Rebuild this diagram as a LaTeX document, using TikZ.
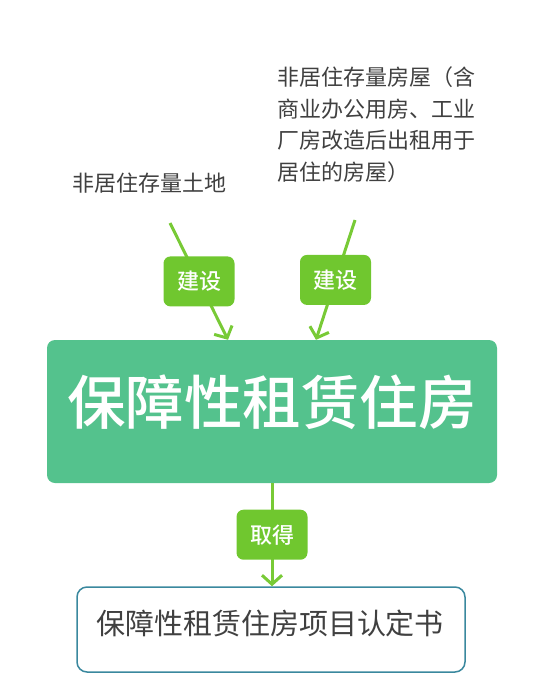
\documentclass[tikz,border=0pt]{standalone}
\usepackage{fontspec}
\setmainfont{Noto Sans CJK SC}
\newfontfamily\medfont{Noto Sans CJK SC Medium}
\usetikzlibrary{arrows.meta}
\definecolor{housefill}{HTML}{54C28D}
\definecolor{tagfill}{HTML}{70C72F}
\definecolor{linegreen}{HTML}{78CA36}
\definecolor{certline}{HTML}{3A889E}
\definecolor{textgray}{HTML}{404040}
\begin{document}
\begin{tikzpicture}
  [x=1pt,y=-1pt,every node/.style={inner sep=0pt},
   note/.style={text=textgray,font=\fontsize{22}{31.5}\selectfont},
   tag/.style={fill=tagfill,rounded corners=7pt,minimum width=71pt,minimum height=50pt,
     text=white,font=\medfont\fontsize{22}{22}\selectfont},
   arr/.style={draw=linegreen,line width=3pt,-{Straight Barb[length=9pt,width=20pt,line width=3pt]}}]
  \useasboundingbox (0,0) rectangle (546,697);
  \node (land)[note,anchor=base west] at (72,191.5) {非居住存量土地};
  \node (bldg)[note,anchor=north west,align=left] at (277,66.5)
    {非居住存量房屋（含\\商业办公用房、工业\\厂房改造后出租用于\\居住的房屋）};
  \node (house)[fill=housefill,rounded corners=8pt,minimum width=450pt,minimum height=143pt] at (272,411.5) {};
  \node (houset)[anchor=base,text=white,font=\medfont\fontsize{58.5}{58.5}\selectfont] at (272,424.5) {保障性租赁住房};
  \node (cert)[draw=certline,line width=1.5pt,rounded corners=10pt,minimum width=388pt,minimum height=85pt] at (271,629.5) {};
  \node (certt)[anchor=base,text=textgray,font=\fontsize{29}{29}\selectfont] at (270,634) {保障性租赁住房项目认定书};
  \coordinate (s1) at (170,223);
  \coordinate (s2) at (355,220);
  \foreach \from/\to/\txt in {s1/{228,0 |- house.north}/建设,s2/{316,0 |- house.north}/建设}
    \draw[arr] (\from) -- node[tag] {\txt} (\to);
  \draw[arr] (house.south) -- node[tag] {取得} (house.south |- cert.north);
\end{tikzpicture}
\end{document}
